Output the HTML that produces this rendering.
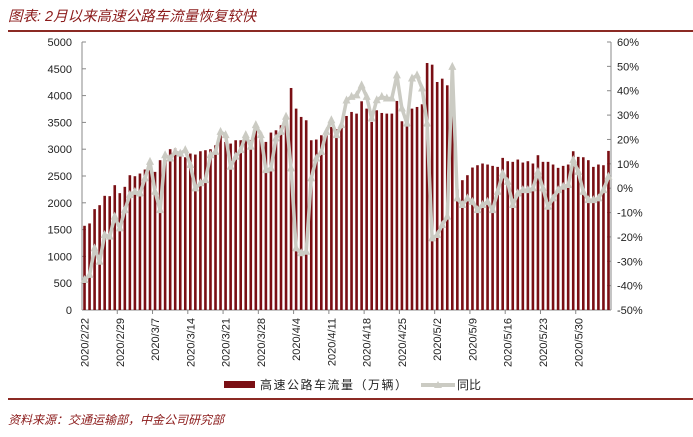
<!DOCTYPE html>
<html><head><meta charset="utf-8">
<style>
html,body{margin:0;padding:0;background:#fff;}
body{width:693px;height:437px;position:relative;overflow:hidden;font-family:"Liberation Sans","Noto Sans CJK SC",sans-serif;}
.title{position:absolute;left:8px;top:5px;font-size:14.5px;font-style:italic;color:#8b1a1a;}
.rule{position:absolute;left:8px;right:0;height:2px;background:#8b2a24;}
.src{position:absolute;left:8px;top:411px;font-size:12px;font-style:italic;color:#8b1a1a;}
svg{position:absolute;left:0;top:0;}
</style></head><body>
<div class="title">图表: 2月以来高速公路车流量恢复较快</div>
<div class="rule" style="top:30px"></div>
<div class="rule" style="top:398px;height:1.5px"></div>
<div class="src">资料来源：交通运输部，中金公司研究部</div>
<svg id="chart" width="693" height="437"></svg>
<script>
const volumes = [1571,1615,1882,1956,2130,2124,2329,2180,2298,2515,2496,2546,2621,2670,2577,2795,2875,3000,3012,2869,2850,2919,2900,2962,2981,3000,
3074,3260,3136,3105,3167,3167,3260,3167,3366,3310,3136,3310,3353,3447,3447,4142,3757,3602,3540,3167,3180,3260,3260,3416,3372,3478,
3620,3695,3664,3894,3757,3509,3726,3676,3664,3664,3900,3521,3447,3757,3788,3838,4608,4577,4254,4316,4192,4200,2250,2422,2515,2658,
2701,2733,2714,2689,2670,2838,2776,2764,2807,2751,2776,2733,2888,2764,2764,2714,2652,2689,2714,2962,2857,2850,2795,2670,2714,2701,2968];
const yoy = [-37.7,-35.6,-24.7,-30.2,-19.2,-19.9,-11.7,-16.5,-9,-2.8,-1.5,-2.2,4,10.8,-1.5,-9,13.5,12.2,14.9,14.2,15.6,9.5,-0.1,2,3.3,13.5,
14.9,23.1,21.8,8.8,12.9,15.6,21.8,17,25.9,21.8,7.4,8.1,20.4,23.1,29.3,8.1,-24.7,-26.7,-26.1,4,12.2,14.9,23.1,27.9,21.8,25.9,
36,37.5,38.1,42.2,37.5,28.6,36.1,37.5,36.8,36.8,46.3,32.7,26.5,45,46.3,40.9,26.5,-20.6,-19.2,-15.1,-11.7,49.8,-4.2,-6.9,-4.2,-5.6,
-9,-6.9,-5.6,-9,-1.5,6,2.6,-6.9,-2.2,-0.8,-0.8,-0.1,6.7,-0.1,-7.6,-4.2,-0.8,0.6,1.3,11.5,6.7,-1.5,-4.9,-4.9,-4.2,-0.8,4.7];
const leftTicks = [0,500,1000,1500,2000,2500,3000,3500,4000,4500,5000];
const rightTicks = [-50,-40,-30,-20,-10,0,10,20,30,40,50,60];
const xLabels = ["2020/2/22","2020/2/29","2020/3/7","2020/3/14","2020/3/21","2020/3/28","2020/4/4","2020/4/11","2020/4/18","2020/4/25","2020/5/2","2020/5/9","2020/5/16","2020/5/23","2020/5/30"];
const labelIdx = [0,7,14,21,28,35,42,49,56,63,70,77,84,91,98];

const svg = document.getElementById('chart');
const NS = 'http://www.w3.org/2000/svg';
const X0=82, X1=611, Y0=310, Y1=42;
const n = volumes.length;
const step = (X1-X0)/n;
const xc = i => X0 + step*(i+0.5);
const yL = v => Y0 - (v/5000)*(Y0-Y1);
const yR = p => Y0 - ((p+50)/110)*(Y0-Y1);
function mk(tag, attrs, parent){const e=document.createElementNS(NS,tag);for(const k in attrs)e.setAttribute(k,attrs[k]);(parent||svg).appendChild(e);return e;}

// axes
const axL = mk('line',{x1:X0,y1:Y1,x2:X0,y2:Y0,stroke:'#888','stroke-width':1});


const axR = mk('line',{x1:X1,y1:Y1,x2:X1,y2:Y0,stroke:'#888','stroke-width':1});


const axB = mk('line',{x1:X0,y1:Y0,x2:X1,y2:Y0,stroke:'#888','stroke-width':1});



leftTicks.forEach(v=>{
  const y=yL(v);
  mk('line',{x1:X0,y1:y,x2:X0+4,y2:y,stroke:'#888'});
  const t=mk('text',{x:72,y:y+4,'text-anchor':'end','font-size':11,fill:'#222'});
  t.textContent=v;
  
  
});
rightTicks.forEach(p=>{
  const y=yR(p);
  mk('line',{x1:X1-4,y1:y,x2:X1,y2:y,stroke:'#888'});
  const t=mk('text',{x:617,y:y+4,'text-anchor':'start','font-size':11,fill:'#222'});
  t.textContent=p+'%';
  
  
});
for(let i=7;i<n;i+=7){const x=X0+step*i;mk('line',{x1:x,y1:Y0,x2:x,y2:Y0+4,stroke:'#888'});}

// bars
volumes.forEach((v,i)=>{
  const b=mk('rect',{x:xc(i)-1.3,y:yL(v),width:2.6,height:Y0-yL(v),fill:'#7a0f14'});
  
  
});

// line
const pts = yoy.map((p,i)=>xc(i).toFixed(1)+','+yR(p).toFixed(1)).join(' ');
const ln = mk('polyline',{points:pts,fill:'none',stroke:'#cbcbc3','stroke-width':3.5,'stroke-linejoin':'round'});


yoy.forEach((p,i)=>{
  const x=xc(i), y=yR(p);
  const m=mk('polygon',{points:`${x},${y-5} ${x-4},${y+3} ${x+4},${y+3}`,fill:'#cbcbc3'});
  
  
});

// x labels
labelIdx.forEach((idx,k)=>{
  const x=xc(idx)+4, y=318;
  const t=mk('text',{x:x,y:y,'text-anchor':'end','font-size':11,fill:'#222',transform:`rotate(-90 ${x} ${y})`});
  t.textContent=xLabels[k];
  
  
});

// legend
const lg = mk('g',{});


const lr = mk('rect',{x:224,y:381,width:31,height:7,fill:'#7a0f14'},lg);


const lt1 = mk('text',{x:260,y:389,'font-size':12,fill:'#222','letter-spacing':'1.5'},lg);
lt1.textContent='高速公路车流量（万辆）';


const ll = mk('line',{x1:421,y1:385,x2:455,y2:385,stroke:'#cbcbc3','stroke-width':4},lg);


mk('polygon',{points:'438,381 434,388 442,388',fill:'#cbcbc3'},lg);
const lt2 = mk('text',{x:457,y:389,'font-size':12,fill:'#222'},lg);
lt2.textContent='同比';


</script>
</body></html>
